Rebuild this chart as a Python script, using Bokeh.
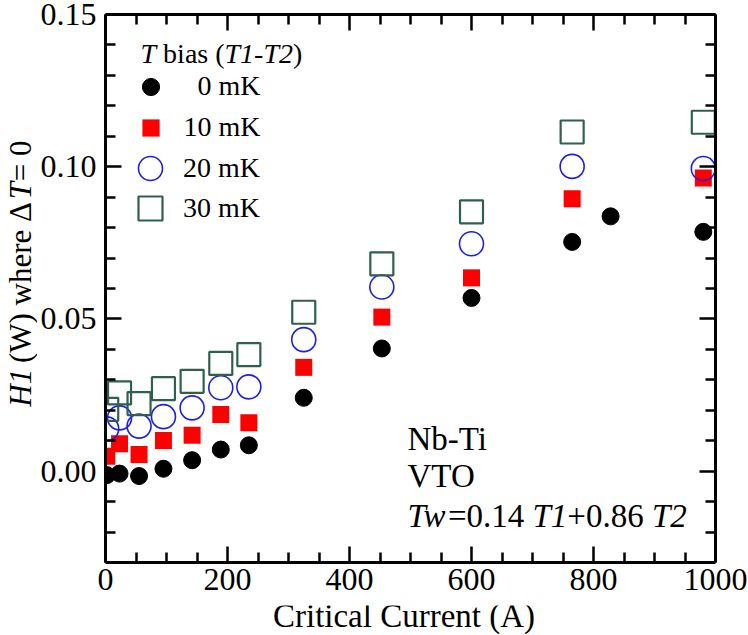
import math
from bokeh.plotting import figure
from bokeh.layouts import row, column
from bokeh.models import (Range1d, LinearAxis, FixedTicker, PrintfTickFormatter,
                          Label, Legend, LegendItem, Grid)
from bokeh.core.properties import value
from bokeh.embed import file_html
from bokeh.resources import INLINE

# ---------------- data ----------------
current_a = [2, 23, 55, 95, 142, 189, 235, 325, 453, 600, 765, 980]
current_0mk = [2, 23, 55, 95, 142, 189, 235, 325, 453, 600, 765, 828, 980]
h1_0mk = [-0.0013, -0.0008, -0.0016, 0.0008, 0.0036, 0.0071, 0.0085,
          0.0241, 0.0403, 0.0569, 0.0753, 0.0837, 0.0786]
h1_10mk = [0.0049, 0.0090, 0.0055, 0.0101, 0.0118, 0.0186, 0.0159,
           0.0341, 0.0506, 0.0635, 0.0895, 0.0963]
h1_20mk = [0.0139, 0.0175, 0.0148, 0.0179, 0.0208, 0.0274, 0.0277,
           0.0432, 0.0605, 0.0747, 0.1001, 0.0994]
h1_30mk = [0.0203, 0.0257, 0.0222, 0.0271, 0.0295, 0.0354, 0.0383,
           0.0522, 0.0681, 0.0852, 0.1114, 0.1146]
bias_labels = ["\u20070 mK", "10 mK", "20 mK", "30 mK"]
x_title = "Critical Current (A)"
x_major_ticks = [0, 200, 400, 600, 800, 1000]
x_minor_ticks = [50, 100, 150, 250, 300, 350, 450, 500, 550, 650, 700, 750, 850, 900, 950]
y_major_ticks = [0.00, 0.05, 0.10, 0.15]
y_minor_ticks = [-0.02, -0.01, 0.01, 0.02, 0.03, 0.04, 0.06, 0.07, 0.08, 0.09,
                 0.11, 0.12, 0.13, 0.14]

FONT = "Liberation Serif"
X_MIN, X_MAX = 0, 1000
Y_MIN, Y_MAX = -0.03, 0.15

PAGE_W, PAGE_H = 748, 635
YT_W = 37          # width of the strip holding the y title
XT_H = 30          # height of the strip holding the x title
MAIN_H = PAGE_H - XT_H
FL, FR, FT, FB = 105, 715, 14, 562   # frame edges in the page picture
BASE_SHIFT = 0.3375   # text is drawn this many em below the anchor


def bare_fig(w, h, xr, yr):
    f = figure(width=w, height=h, x_range=xr, y_range=yr, output_backend="svg",
               toolbar_location=None, x_axis_location=None, y_axis_location=None,
               min_border=0)
    f.center = [c for c in f.center if not isinstance(c, Grid)]
    f.outline_line_color = None
    f.background_fill_color = "white"
    f.border_fill_color = "white"
    return f


p = figure(width=PAGE_W - YT_W, height=MAIN_H,
           x_range=Range1d(X_MIN, X_MAX), y_range=Range1d(Y_MIN, Y_MAX),
           output_backend="svg", toolbar_location=None,
           x_axis_location=None, y_axis_location=None,
           min_border_left=FL - YT_W, min_border_right=PAGE_W - FR,
           min_border_top=FT, min_border_bottom=MAIN_H - FB)
p.center = [c for c in p.center if not isinstance(c, Grid)]
p.outline_line_color = None
p.background_fill_color = "white"
p.border_fill_color = "white"


def style_axis(ax, labels=True):
    ax.axis_line_color = "black"
    ax.axis_line_width = 3
    ax.major_tick_in = 16
    ax.major_tick_out = 0
    ax.minor_tick_in = 10
    ax.minor_tick_out = 0
    ax.major_tick_line_width = 2.5
    ax.minor_tick_line_width = 2.5
    ax.major_tick_line_color = "black"
    ax.minor_tick_line_color = "black"
    ax.major_label_text_font = FONT
    if labels:
        ax.major_label_text_font_size = "32px"
        ax.major_label_text_color = "black"
    else:
        ax.major_label_text_font_size = "1px"
        ax.major_label_text_color = None
        ax.major_label_standoff = 0


def xticker():
    return FixedTicker(ticks=x_major_ticks, minor_ticks=x_minor_ticks)


def yticker():
    return FixedTicker(ticks=y_major_ticks, minor_ticks=y_minor_ticks)


xb = LinearAxis(ticker=xticker())
style_axis(xb)
xb.major_label_standoff = 6
p.add_layout(xb, "below")

xt = LinearAxis(ticker=xticker())
style_axis(xt, labels=False)
p.add_layout(xt, "above")

yl = LinearAxis(ticker=yticker(), formatter=PrintfTickFormatter(format="%.2f"))
style_axis(yl)
yl.major_label_standoff = 9
p.add_layout(yl, "left")

yr = LinearAxis(ticker=yticker())
style_axis(yr, labels=False)
p.add_layout(yr, "right")

# ---------------- data marks ----------------
r0 = p.scatter(current_0mk, h1_0mk, marker="circle", size=17,
               fill_color="black", line_color="black")
r1 = p.scatter(current_a, h1_10mk, marker="square", size=17,
               fill_color="#ff0000", line_color=None)
r2 = p.scatter(current_a, h1_20mk, marker="circle", size=24,
               fill_color=None, line_color="#1f1fe0", line_width=1.6)
r3 = p.scatter(current_a, h1_30mk, marker="square", size=23,
               fill_color=None, line_color="#2f5f50", line_width=2.2)


def xd(px):
    return X_MIN + (px - FL) * (X_MAX - X_MIN) / (FR - FL)


def yd(py):
    return Y_MAX - (py - FT) * (Y_MAX - Y_MIN) / (FB - FT)


# ---------------- legend (one per entry, to keep marker sizes) ----------------
legend_specs = [(r0, bias_labels[0], 43, 86), (r1, bias_labels[1], 43, 127),
                (r2, bias_labels[2], 60, 168), (r3, bias_labels[3], 60, 208)]
marker_cx = 150 - FL
label_left = 183 - FL
for rend, lab, g, cy in legend_specs:
    leg = Legend(items=[LegendItem(label=value(lab), renderers=[rend])],
                 location=(marker_cx - g / 2, (FB - cy) - g / 2),
                 glyph_width=g, glyph_height=g,
                 label_standoff=int(round(label_left - (marker_cx + g / 2))),
                 padding=0, margin=0, spacing=0,
                 border_line_color=None, background_fill_alpha=0,
                 label_text_font=FONT, label_text_font_size="28px",
                 label_text_color="black")
    p.add_layout(leg)


def make_label(txt, x, y, size, italic=False, align="left", angle=0.0):
    return Label(x=x, y=y, text=txt, text_font=FONT, text_font_size=f"{size}px",
                 text_font_style="italic" if italic else "normal",
                 text_align=align, text_baseline="alphabetic",
                 text_color="black", angle=angle)


def add_text(txt, px, baseline_py, size, italic=False, align="left"):
    py = baseline_py - BASE_SHIFT * size
    p.add_layout(make_label(txt, xd(px), yd(py), size, italic, align))


# legend header: "T bias (T1-T2)"
add_text("T", 140, 62, 28, italic=True)
add_text("bias (", 162.6, 62, 28)
add_text("T1-T2", 224.0, 62, 28, italic=True)
add_text(")", 292.5, 62, 28)

# annotation
add_text("Nb-Ti", 407, 450, 33)
add_text("VTO", 407, 487, 33)
add_text("Tw", 407, 527, 33, italic=True)
add_text("=0.14", 447.4, 527, 33)
add_text("T1", 532, 527, 33, italic=True)
add_text("+0.86", 566.8, 527, 33)
add_text("T2", 651.5, 527, 33, italic=True)

# ---------------- y title strip (rotated, mixed italic) ----------------
YT_SIZE = 31
yt_x = 30.5 - BASE_SHIFT * YT_SIZE
ang = math.pi / 2
yfig = bare_fig(YT_W, MAIN_H, Range1d(0, YT_W), Range1d(MAIN_H, 0))
yfig.add_layout(make_label("H1", yt_x, 433, YT_SIZE, italic=True, angle=ang))
yfig.add_layout(make_label("(W) where \u0394", yt_x, 207, YT_SIZE, align="right", angle=ang))
yfig.add_layout(make_label("T", yt_x, 204, YT_SIZE, italic=True, angle=ang))
yfig.add_layout(make_label("= 0", yt_x, 184, YT_SIZE, angle=ang))

# ---------------- x title strip ----------------
XT_SIZE = 33
xfig = bare_fig(PAGE_W, XT_H, Range1d(0, PAGE_W), Range1d(XT_H, 0))
xfig.add_layout(make_label(x_title, 403.5, 627 - MAIN_H - BASE_SHIFT * XT_SIZE,
                           XT_SIZE, align="center"))

layout = column(row(yfig, p, spacing=0), xfig, spacing=0)
open("out.html", "w").write(file_html(layout, INLINE))
